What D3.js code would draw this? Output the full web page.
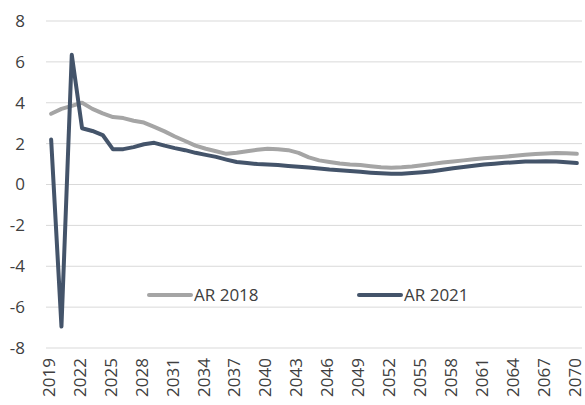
<!DOCTYPE html>
<html>
<head>
<meta charset="utf-8">
<script src="https://cdn.jsdelivr.net/npm/d3@7"></script>
<style>
  body { margin: 0; background: #fff; }
  text { font-family: "Open Sans", "Liberation Sans", sans-serif; fill: #404040; }
</style>
</head>
<body>
<svg id="chart" width="585" height="405"></svg>
<script>
// years on the category axis
var years = d3.range(2019, 2071);
var yTicks = [-8, -6, -4, -2, 0, 2, 4, 6, 8];

var ar2018 = [3.46, 3.7, 3.85, 4.0, 3.7, 3.48, 3.3, 3.25, 3.12, 3.03, 2.82, 2.6,
    2.35, 2.13, 1.9, 1.75, 1.63, 1.5, 1.55, 1.63, 1.7, 1.75, 1.73, 1.68, 1.55,
    1.33, 1.18, 1.1, 1.03, 0.98, 0.95, 0.89, 0.84, 0.82, 0.84, 0.88, 0.94, 1.01,
    1.08, 1.13, 1.18, 1.23, 1.28, 1.32, 1.36, 1.41, 1.45, 1.49, 1.52, 1.54, 1.53, 1.5];

var ar2021 = [2.2, -6.95, 6.35, 2.75, 2.62, 2.42, 1.72, 1.73, 1.83, 1.97, 2.04, 1.9,
    1.78, 1.68, 1.55, 1.45, 1.35, 1.22, 1.1, 1.05, 1.0, 0.98, 0.95, 0.91, 0.87,
    0.83, 0.78, 0.73, 0.7, 0.66, 0.62, 0.58, 0.55, 0.53, 0.53, 0.56, 0.6, 0.65,
    0.72, 0.8, 0.86, 0.92, 0.98, 1.02, 1.06, 1.09, 1.12, 1.13, 1.14, 1.12, 1.09, 1.05];

var series = [
    { name: 'AR 2018', values: ar2018, color: '#a5a5a5' },
    { name: 'AR 2021', values: ar2021, color: '#44546a' }
];

var svg = d3.select('#chart');
var plotLeft = 46, plotRight = 582, plotTop = 21, plotBottom = 348;

var x = d3.scaleBand().domain(years).range([plotLeft, plotRight]);
var y = d3.scaleLinear().domain([-8, 8]).range([plotBottom, plotTop]);

// gridlines
svg.append('g').selectAll('line').data(yTicks).enter().append('line')
    .attr('x1', plotLeft).attr('x2', plotRight)
    .attr('y1', function(d) { return y(d); })
    .attr('y2', function(d) { return y(d); })
    .attr('stroke', '#d9d9d9').attr('stroke-width', 1);

// y axis labels
svg.append('g').selectAll('text').data(yTicks).enter().append('text')
    .attr('x', 25)
    .attr('y', function(d) { return y(d); })
    .attr('dy', '0.35em')
    .attr('text-anchor', 'end')
    .style('font-size', '17px')
    .text(function(d) { return d; });

// x axis labels, every third year
var xLabels = years.filter(function(d, i) { return i % 3 === 0; });
svg.append('g').selectAll('text').data(xLabels).enter().append('text')
    .attr('transform', function(d) {
        return 'translate(' + (x(d) + x.bandwidth() / 2) + ',358) rotate(-90)';
    })
    .attr('dy', '0.22em')
    .attr('text-anchor', 'end')
    .style('font-size', '17px')
    .text(function(d) { return d; });

var line = d3.line()
    .x(function(d, i) { return x(years[i]) + x.bandwidth() / 2; })
    .y(function(d) { return y(d); });

series.forEach(function(s) {
    svg.append('path')
        .datum(s.values)
        .attr('d', line)
        .attr('fill', 'none')
        .attr('stroke', s.color)
        .attr('stroke-width', 4)
        .attr('stroke-linejoin', 'round')
        .attr('stroke-linecap', 'round');
});

// legend
var legend = svg.append('g').selectAll('g').data(series).enter().append('g')
    .attr('transform', function(d, i) { return 'translate(' + (149 + i * 210) + ',295)'; });
legend.append('line')
    .attr('x1', 0).attr('x2', 42).attr('y1', 0).attr('y2', 0)
    .attr('stroke', function(d) { return d.color; })
    .attr('stroke-width', 4).attr('stroke-linecap', 'round');
legend.append('text')
    .attr('x', 45).attr('dy', '0.35em')
    .style('font-size', '17px')
    .text(function(d) { return d.name; });
</script>
</body>
</html>
